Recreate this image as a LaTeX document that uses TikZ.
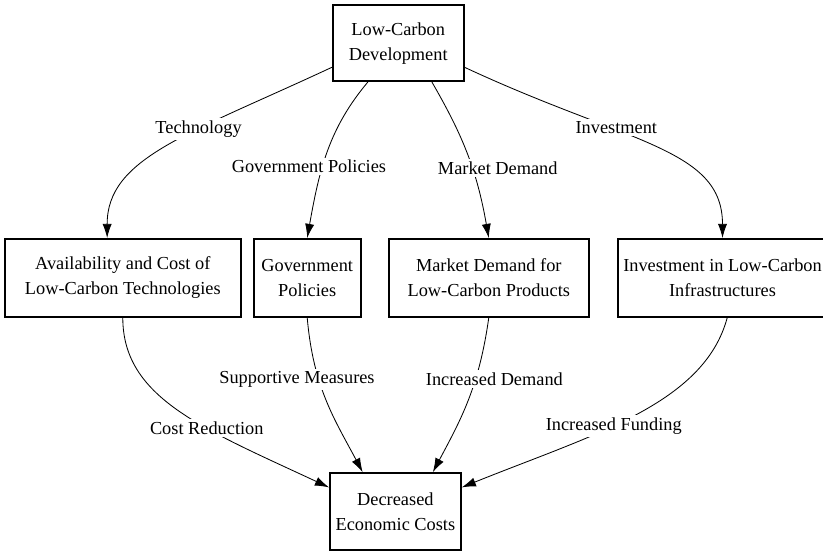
\documentclass[tikz,border=0pt]{standalone}
\usepackage{fontspec}
\setmainfont{Liberation Serif}
\usetikzlibrary{arrows.meta}

\begin{document}
\begin{tikzpicture}[font=\fontsize{11}{15}\selectfont,
  block/.style={draw, line width=1.1pt, align=center, minimum height=1.64cm},
  link/.style={-{Latex[length=8.5pt,width=5.5pt]}, line width=0.5pt},
  tag/.style={fill=white, inner sep=1.5pt}]
  \useasboundingbox (0,0) rectangle (17.36,-11.62);

  \node[block, minimum width=2.76cm, minimum height=1.60cm] (lcd) at (8.40,-0.91) {Low-Carbon\\Development};

  \node[block, minimum width=4.98cm] (tech) at (2.59,-5.86) {Availability and Cost of\\Low-Carbon Technologies};
  \node[block, minimum width=2.26cm] (gov) at (6.48,-5.86) {Government\\Policies};
  \node[block, minimum width=4.22cm] (market) at (10.31,-5.86) {Market Demand for\\Low-Carbon Products};
  \node[block, minimum width=4.37cm] (invest) at (15.24,-5.86) {Investment in Low-Carbon\\Infrastructures};

  \node[block, minimum width=2.76cm, minimum height=1.62cm] (cost) at (8.34,-10.79) {Decreased\\Economic Costs};

  \draw[link] (lcd.200) to[out=205, in=90, out distance=3.37cm, in distance=1.69cm]
    node[tag, pos=0.37] {Technology} ([xshift=-0.33cm]tech.north);
  \draw[link] ([xshift=-0.64cm]lcd.south) to[out=230, in=80, out distance=1.27cm, in distance=1.48cm]
    node[tag, pos=0.6, xshift=-0.29cm] {Government Policies} (gov.north);
  \draw[link] ([xshift=0.71cm]lcd.south) to[out=300, in=100, out distance=1.27cm, in distance=1.48cm]
    node[tag, pos=0.6, xshift=0.54cm] {Market Demand} (market.north);
  \draw[link] (lcd.340) to[out=-25, in=90, out distance=3.80cm, in distance=1.90cm]
    node[tag, pos=0.35, xshift=0.14cm] {Investment} (invest.north);

  \draw[link] (tech.south) to[out=270, in=155, out distance=1.69cm, in distance=2.95cm]
    node[tag, pos=0.62] {Cost Reduction} (cost.160);
  \draw[link] (gov.south) to[out=275, in=118, out distance=1.48cm, in distance=1.27cm]
    node[tag, pos=0.35, xshift=-0.46cm] {Supportive Measures} ([xshift=-0.69cm]cost.north);
  \draw[link] (market.south) to[out=262, in=62, out distance=1.48cm, in distance=1.27cm]
    node[tag, pos=0.35, xshift=0.4cm] {Increased Demand} ([xshift=0.79cm]cost.north);
  \draw[link] ([xshift=0.1cm]invest.south) to[out=255, in=22, out distance=1.90cm, in distance=2.95cm]
    node[tag, pos=0.57] {Increased Funding} (cost.20);
\end{tikzpicture}
\end{document}
